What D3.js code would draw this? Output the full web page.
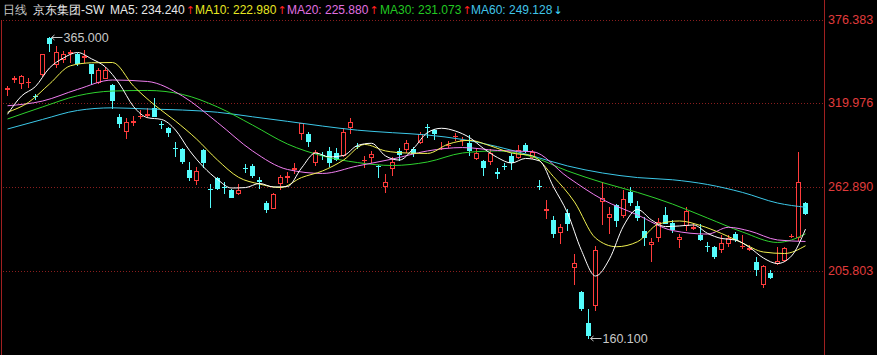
<!DOCTYPE html>
<html><head><meta charset="utf-8">
<script src="https://cdn.jsdelivr.net/npm/d3@7"></script>
<style>html,body{margin:0;padding:0;background:#000;overflow:hidden}svg{display:block}</style>
</head><body><svg id="c" width="877" height="355"></svg>
<script>
// ---- data (price values) ----
const opens=[329.8,336.4,333.4,334.1,324.7,339.5,364.4,346.3,349.7,353.8,353.1,351.2,346.3,334.1,337.2,332.2,310.7,301.0,307.4,311.2,312.0,316.4,305.9,302.8,289.4,288.7,274.5,267.7,288.0,261.5,268.8,263.2,260.9,258.6,275.8,277.2,267.7,252.2,248.8,265.8,270.0,275.3,299.8,298.9,279.9,284.8,287.6,286.2,284.6,303.9,290.9,281.0,283.5,277.3,263.6,275.6,287.6,288.5,288.5,293.7,304.0,301.6,289.1,291.2,297.4,294.6,292.6,282.4,280.8,280.8,272.8,277.3,284.0,283.5,291.4,283.5,263.7,247.4,240.5,232.5,245.0,208.7,191.7,170.3,182.7,253.6,242.3,250.7,243.9,259.7,250.0,233.2,224.2,229.1,243.9,238.2,227.4,237.1,235.2,230.3,222.9,221.9,220.6,224.6,231.0,222.5,220.9,212.1,197.0,204.7,211.0,213.3,229.3,229.1,252.2];
const highs=[331.5,338.5,338.8,337.2,326.1,353.1,365.0,358.7,355.3,355.8,353.8,356.0,346.8,344.0,344.7,332.6,312.3,309.6,311.4,315.2,316.4,323.2,308.0,303.9,293.3,289.1,280.1,276.7,288.4,264.9,269.9,266.5,261.2,264.9,278.3,278.5,269.5,253.6,259.0,271.1,273.3,279.0,306.6,300.5,288.0,286.9,289.9,289.2,303.2,309.6,292.6,284.0,287.4,277.9,271.7,283.5,289.2,294.8,289.9,300.5,305.7,302.1,293.7,294.4,299.4,296.7,298.2,289.2,281.1,288.5,275.6,279.0,285.8,291.4,292.6,288.0,267.7,254.1,243.2,237.8,247.7,217.4,192.2,179.8,222.8,266.5,249.5,251.3,260.9,263.1,253.6,242.7,228.0,241.6,249.5,240.5,230.8,249.1,238.2,237.8,225.7,222.8,230.3,230.3,232.5,230.3,223.5,215.1,209.9,206.5,221.9,221.9,231.0,286.9,252.5];
const lows=[325.4,334.1,330.0,331.1,322.7,338.5,355.3,344.7,347.6,347.6,345.8,347.6,332.7,333.6,336.8,316.8,303.9,296.4,305.0,310.0,310.7,311.0,303.2,297.8,284.2,279.0,267.7,264.7,276.7,249.1,261.3,258.6,255.9,258.3,273.3,269.9,262.0,246.1,248.4,261.3,266.5,272.2,295.3,290.8,277.9,281.7,277.2,281.2,284.0,299.8,289.2,276.3,280.1,269.9,259.7,271.1,281.2,286.9,284.0,293.0,296.7,295.3,288.5,289.9,294.8,291.4,284.6,281.7,271.1,278.5,268.8,274.9,274.9,282.4,286.9,282.4,261.3,241.6,228.7,225.0,233.7,197.0,179.3,160.1,179.3,237.8,231.8,236.4,242.7,250.7,240.5,223.5,212.8,226.4,238.2,232.5,222.3,233.7,234.2,226.9,219.6,214.4,218.9,222.8,226.4,221.2,220.1,203.1,195.1,200.9,210.6,212.8,228.7,226.9,244.6];
const closes=[330.2,336.8,338.5,334.5,324.4,353.1,360.6,354.8,353.1,354.8,347.0,351.6,340.2,342.4,342.4,322.0,306.2,307.3,307.8,311.4,312.3,311.4,305.6,300.1,289.1,280.6,269.9,273.8,280.1,261.2,262.0,262.9,256.3,260.9,275.5,271.1,267.0,247.7,257.9,269.9,270.4,275.6,306.2,294.4,287.0,284.5,280.1,281.7,300.5,307.3,290.6,281.4,285.1,277.0,266.5,280.1,285.1,293.0,285.8,298.9,303.7,299.8,289.4,291.6,297.7,295.0,288.0,286.2,276.3,286.2,272.4,277.0,280.1,288.0,288.0,286.9,263.4,247.7,231.4,235.9,238.2,211.5,180.5,162.3,220.1,255.2,244.6,240.5,254.5,252.9,242.7,229.1,225.7,239.3,238.6,234.2,229.1,246.8,235.5,227.4,222.6,216.0,224.6,228.0,227.4,222.8,221.2,207.0,209.2,201.9,212.8,221.2,229.6,266.5,245.0];

// moving averages (bar index, value)
const ma5Idx=[0,2,4,6,8,10,12,14,16,18,20,22,24,26,28,30,32,34,36,38,40,42,44,46,48,50,52,54,56,58,60,62,64,66,68,70,72,74,76,78,80,82,84,86,88,90,92,94,96,98,100,102,104,106,108,110,112,114];
const ma5=[312.3,324.7,331.2,343.8,350.6,354.3,350.0,344.4,332.9,317.6,310.0,308.8,301.6,287.7,276.5,268.0,262.2,262.5,265.3,262.9,263.2,275.8,286.0,283.3,284.3,291.1,292.6,284.0,281.2,289.1,299.9,302.8,300.9,296.5,289.1,282.9,279.2,282.3,280.6,262.9,245.2,219.7,202.4,214.0,236.4,247.6,240.5,236.0,236.4,237.1,231.4,227.9,226.9,221.8,214.6,210.9,216.0,234.24];
const ma10Idx=[0,3,6,9,12,15,18,21,24,27,30,33,36,39,42,45,48,51,54,57,60,63,66,69,72,75,78,81,84,87,90,93,96,99,102,105,108,111,114];
const ma10=[313.7,320.4,332.9,345.3,347.3,347.5,331.5,318.6,307.7,295.5,281.2,269.5,264.9,262.5,269.3,273.8,281.2,291.8,287.4,286.0,285.7,292.1,294.6,290.8,286.0,284.0,269.9,252.7,228.2,222.3,225.7,237.7,239.8,236.7,231.3,224.8,218.7,217.7,222.98];
const ma20Idx=[0,5,10,15,20,25,30,35,40,45,50,55,60,65,70,75,80,85,90,95,100,103,106,110,114];
const ma20=[318.1,321.3,329.2,335.6,334.6,324.7,306.7,287.4,274.8,272.1,277.2,281.9,287.4,289.7,287.7,286.9,269.7,254.4,243.9,233.3,230.9,235.5,233.0,226.9,225.88];
const ma30Idx=[0,5,10,15,20,25,30,35,40,45,50,55,60,65,70,75,80,85,90,95,100,105,110,112,114];
const ma30=[309.1,317.3,324.9,328.1,328.5,325.8,317.3,305.0,292.1,284.0,279.5,277.5,279.9,286.0,287.4,283.3,273.8,265.9,259.2,251.3,241.8,232.3,225.2,226.9,231.073];
const ma60Idx=[0,5,10,15,20,25,30,35,40,45,50,55,60,65,70,75,80,85,90,95,100,105,110,114];
const ma60=[302.3,308.8,314.9,316.7,315.9,315.2,313.7,310.6,307.5,304.3,301.5,299.8,298.2,295.2,290.3,284.0,277.2,272.4,269.3,267.8,264.6,259.2,252.0,249.128];

const tickLabels=["376.383","319.976","262.890","205.803"];
const maNames=["MA5","MA10","MA20","MA30","MA60"];
const maLast=["234.240","222.980","225.880","231.073","249.128"];
const maUp=[true,true,true,true,false];
const titleParts=["日线","京东集团-SW"];

// ---- drawing ----
const W=877,H=355;
const svg=d3.select("#c");
svg.append("rect").attr("width",W).attr("height",H).attr("fill","#000");
const N=closes.length;
const plotL=2,plotR=824,plotT=20,plotB=355;
const x=d3.scaleBand().domain(d3.range(N)).range([5,5+7*N-2]).paddingInner(2/7);
const bw=x.bandwidth();
const y=d3.scaleLinear().domain([205.803,376.383]).range([271,20]);

const RED="#ff3c3c", CYAN="#54fcfc";

// grid
const ticks=tickLabels.map(Number);
const grid=svg.append("g");
grid.selectAll("line").data(ticks).join("line")
  .attr("x1",plotL+1).attr("x2",plotR)
  .attr("y1",d=>Math.round(y(d))+0.5).attr("y2",d=>Math.round(y(d))+0.5)
  .attr("stroke","#8a1e1e").attr("stroke-dasharray","1,2").attr("shape-rendering","crispEdges");
svg.append("g").selectAll("text").data(tickLabels).join("text")
  .attr("x",plotR+4).attr("y",d=>Math.round(y(+d)))
  .attr("dominant-baseline","central")
  .attr("fill","#e03c3c").attr("font-family","'Liberation Sans',Arial,sans-serif")
  .attr("font-size","12.5px").text(d=>d);

// borders
svg.append("line").attr("x1",plotR+0.5).attr("x2",plotR+0.5).attr("y1",0).attr("y2",H)
  .attr("stroke","#a02020").attr("shape-rendering","crispEdges");
svg.append("line").attr("x1",plotL-0.5).attr("x2",plotL-0.5).attr("y1",plotT).attr("y2",H)
  .attr("stroke","#a02020").attr("shape-rendering","crispEdges");

// candles
const data=d3.range(N).map(i=>({i,o:opens[i],h:highs[i],l:lows[i],c:closes[i]}));
const cg=svg.append("g").attr("shape-rendering","crispEdges");
data.forEach(d=>{
  const up=d.c>=d.o;
  const col=up?RED:CYAN;
  const x0=x(d.i), cx=x0+Math.floor(bw/2)+0.5;
  const yT=Math.round(y(Math.max(d.o,d.c))), yB=Math.round(y(Math.min(d.o,d.c)));
  const yH=Math.round(y(d.h)), yL=Math.round(y(d.l));
  const g=cg.append("g");
  g.append("line").attr("x1",cx).attr("x2",cx).attr("y1",yH).attr("y2",yL+1).attr("stroke",col);
  if(yB-yT<1){
    g.append("line").attr("x1",x0).attr("x2",x0+bw).attr("y1",yT+0.5).attr("y2",yT+0.5).attr("stroke",col);
  } else if(up){
    g.append("rect").attr("x",x0+0.5).attr("y",yT+0.5).attr("width",bw-1).attr("height",yB-yT)
      .attr("fill","#000").attr("stroke",col);
  } else {
    g.append("rect").attr("x",x0).attr("y",yT).attr("width",bw).attr("height",yB-yT+1).attr("fill",col);
  }
});

// MA lines
const clip=svg.append("clipPath").attr("id","pc").append("rect")
  .attr("x",plotL).attr("y",plotT).attr("width",plotR-plotL).attr("height",plotB-plotT);
const line=d3.line().x(d=>x(d[0])+Math.floor(bw/2)+0.5).y(d=>y(d[1])).curve(d3.curveMonotoneX);
const maSeries=[
  {idx:ma60Idx,v:ma60,c:"#3cc8e8"},
  {idx:ma30Idx,v:ma30,c:"#2ed12e"},
  {idx:ma20Idx,v:ma20,c:"#f07ef0"},
  {idx:ma10Idx,v:ma10,c:"#f0f050"},
  {idx:ma5Idx,v:ma5,c:"#ffffff"}
];
const mg=svg.append("g").attr("clip-path","url(#pc)");
maSeries.forEach(s=>{
  mg.append("path").attr("d",line(s.idx.map((k,j)=>[k,s.v[j]])))
    .attr("fill","none").attr("stroke",s.c).attr("stroke-width",1);
});

// max / min annotations
const font="'Liberation Sans',Arial,sans-serif";
function annot(i,val,label){
  const cx=x(i)+Math.floor(bw/2)+0.5;
  const yy=Math.round(y(val))+0.5;
  const a=svg.append("g");
  a.append("path").attr("d",`M${cx+2},${yy} L${cx+13},${yy}`).attr("stroke","#c8c8c8");
  a.append("path").attr("d",`M${cx+5},${yy-2.5} L${cx+2},${yy} L${cx+5},${yy+2.5}`).attr("stroke","#c8c8c8").attr("fill","none");
  a.append("text").attr("x",cx+14).attr("y",yy).attr("dominant-baseline","central")
    .attr("fill","#c8c8c8").attr("font-family",font).attr("font-size","12.5px").text(label);
}
const iMax=d3.maxIndex(highs), iMin=d3.minIndex(lows);
annot(iMax,highs[iMax],highs[iMax].toFixed(3));
annot(iMin,lows[iMin],lows[iMin].toFixed(3));

// header
const hdr=svg.append("g").attr("font-family",font).attr("font-size","12px");
hdr.append("text").attr("x",3).attr("y",14).attr("fill","#c8c8c8").text(titleParts[0]);
hdr.append("text").attr("x",33).attr("y",14).attr("fill","#e8e8e8").text(titleParts[1]);
const maTxtCol=["#e8e8e8","#e8e820","#e070e0","#22c822","#40c4e8"];
const maX=[110,195,287,380,471];
maNames.forEach((n,k)=>{
  const t=hdr.append("text").attr("x",maX[k]).attr("y",14).attr("fill",maTxtCol[k]).text(n+": "+maLast[k]);
  const w=t.node().getComputedTextLength();
  hdr.append("text").attr("x",maX[k]+w+1).attr("y",14).attr("font-size","11px")
    .attr("font-family","'DejaVu Sans',sans-serif")
    .attr("fill",maUp[k]?"#ff2020":"#40d8ff").text(maUp[k]?"↑":"↓");
});
</script></body></html>
